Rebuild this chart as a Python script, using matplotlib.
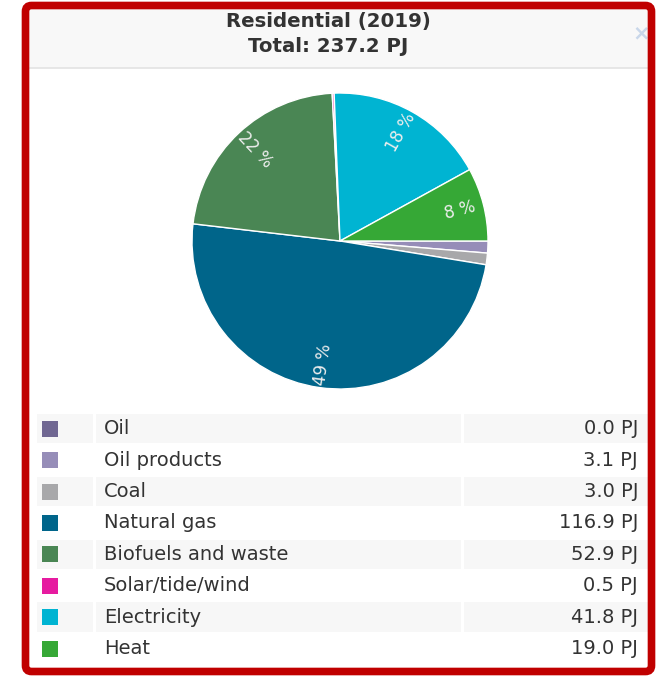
import numpy as np
import matplotlib
matplotlib.use('Agg')
import matplotlib.pyplot as plt
from matplotlib.patches import Rectangle, FancyBboxPatch

TITLE = 'Residential (2019)'
SUBTITLE = 'Total: 237.2 PJ'
CATEGORIES = ['Oil', 'Oil products', 'Coal', 'Natural gas', 'Biofuels and waste',
              'Solar/tide/wind', 'Electricity', 'Heat']
VALUES = [0.0, 3.1, 3.0, 116.9, 52.9, 0.5, 41.8, 19.0]
COLORS = ['#706792', '#968db8', '#a8a8aa', '#00658a', '#4a8654',
          '#e61ba0', '#00b4d2', '#36a836']
UNIT = 'PJ'

W, H = 666, 678
fig = plt.figure(figsize=(W / 100, H / 100), dpi=100)
fig.patch.set_facecolor('white')

# full-figure axes in pixel coordinates for frame, title and legend table
bg = fig.add_axes([0, 0, 1, 1])
bg.set_xlim(0, W)
bg.set_ylim(H, 0)
bg.axis('off')

# title band
bg.add_patch(Rectangle((26, 6), 624, 62, facecolor='#f8f8f8', edgecolor='none', zorder=1))
bg.plot([26, 650], [68, 68], color='#e3e3e3', lw=1.2, zorder=2)
bg.text(328, 21, TITLE, ha='center', va='center', fontsize=14.2, fontweight='bold',
        color='#333333', zorder=3)
bg.text(328, 46, SUBTITLE, ha='center', va='center', fontsize=14.2, fontweight='bold',
        color='#333333', zorder=3)
bg.text(641, 33, '\u00d7', ha='center', va='center', fontsize=15, fontweight='bold',
        color='#c9d7ea', zorder=3)

# legend table
row0, row_h = 413, 31.4
for i, (name, val, col) in enumerate(zip(CATEGORIES, VALUES, COLORS)):
    top = row0 + i * row_h
    yc = top + row_h / 2
    if i % 2 == 0:
        for x0, x1 in [(37, 93), (96, 461), (464, 648)]:
            bg.add_patch(Rectangle((x0, top + 1), x1 - x0, row_h - 2,
                                   facecolor='#f7f7f7', edgecolor='none', zorder=1))
    bg.add_patch(Rectangle((42, yc - 8), 16, 16, facecolor=col, edgecolor='none', zorder=2))
    bg.text(104, yc, name, ha='left', va='center', fontsize=14, color='#333333', zorder=3)
    bg.text(638, yc, f'{val:.1f} {UNIT}', ha='right', va='center', fontsize=14,
            color='#333333', zorder=3)

# red frame
bg.add_patch(FancyBboxPatch((25.5, 5.5), 626, 666, boxstyle='round,pad=0,rounding_size=6',
                            facecolor='none', edgecolor='#c00000', lw=5.5, zorder=5))

# pie
cx, cy, r = 340, 241, 148
pax = fig.add_axes([(cx - r) / W, 1 - (cy + r) / H, 2 * r / W, 2 * r / H])
wedges, _ = pax.pie(VALUES, colors=COLORS, startangle=0, counterclock=False, radius=1,
                    wedgeprops=dict(edgecolor='white', linewidth=1))
pax.set_xlim(-1, 1)
pax.set_ylim(-1, 1)
pax.set_aspect('equal')
pax.axis('off')

total = sum(VALUES)
for w, val in zip(wedges, VALUES):
    pct = val / total * 100
    if pct < 5:
        continue
    mid = (w.theta1 + w.theta2) / 2
    ang = np.deg2rad(mid)
    rot = (mid + 180) % 360 - 180
    if rot > 90:
        rot -= 180
    elif rot < -90:
        rot += 180
    pax.text(0.84 * np.cos(ang), 0.84 * np.sin(ang), f'{pct:.0f} %', ha='center',
             va='center', rotation=rot, rotation_mode='anchor', fontsize=12,
             color='#eeeeee')

fig.savefig('out.png', dpi=100, facecolor='white')
